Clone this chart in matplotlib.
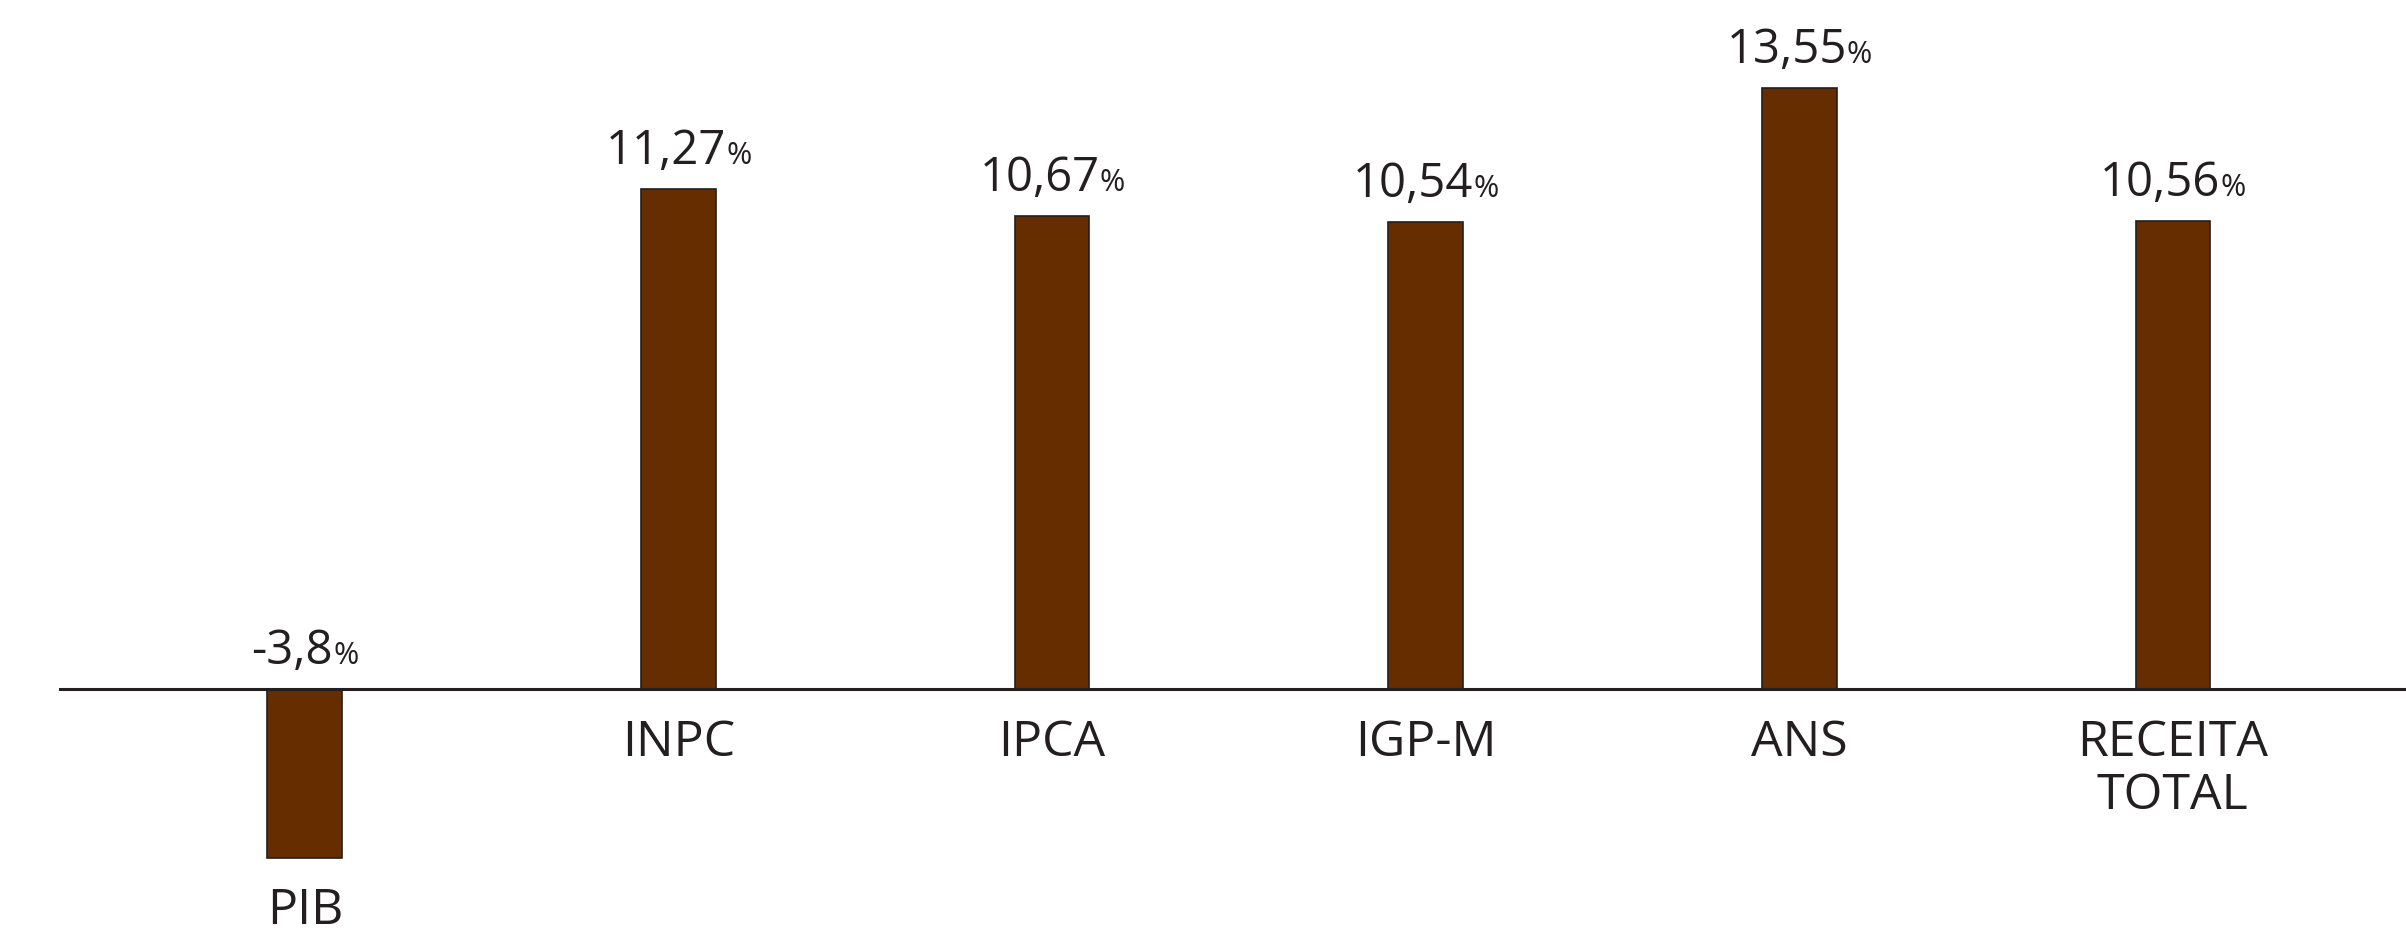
import matplotlib
matplotlib.use("Agg")
import matplotlib.pyplot as plt
from matplotlib.offsetbox import TextArea, HPacker, AnnotationBbox

# dados
categorias = ["PIB", "INPC", "IPCA", "IGP-M", "ANS", "RECEITA\nTOTAL"]
valores = [-3.8, 11.27, 10.67, 10.54, 13.55, 10.56]
rotulos = ["-3,8", "11,27", "10,67", "10,54", "13,55", "10,56"]

cor_barra = "#652d00"
cor_texto = "#231f20"
fonte = "Open Sans"

fig = plt.figure(figsize=(24.06, 9.30), dpi=100)
ax = fig.add_axes([0, 0, 1, 1])

x = list(range(len(categorias)))
ax.bar(x, valores, width=0.2, color=cor_barra, edgecolor=cor_texto, linewidth=1.2, zorder=2)

# linha do zero
ax.axhline(0, xmin=60 / 2406, xmax=1, color=cor_texto, linewidth=2.2, zorder=3)

for i, (v, txt, cat) in enumerate(zip(valores, rotulos, categorias)):
    # valor com "%" menor
    num = TextArea(txt, textprops=dict(fontsize=34, family=fonte, color=cor_texto))
    pct = TextArea("%", textprops=dict(fontsize=22, family=fonte, color=cor_texto))
    box = HPacker(children=[num, pct], align="baseline", pad=0, sep=0)
    ab = AnnotationBbox(box, (i, max(v, 0)), xybox=(0, 10), xycoords="data",
                        boxcoords="offset points", box_alignment=(0.5, 0),
                        frameon=False, pad=0)
    ax.add_artist(ab)

    # nome da categoria (abaixo da barra)
    ax.annotate(cat, (i, min(v, 0)), xytext=(0, -21), textcoords="offset points",
                ha="center", va="top", fontsize=36, family=fonte,
                color=cor_texto, linespacing=1.1)

ax.set_xlim(-0.816, 5.624)
ax.set_ylim(-5.43, 15.54)
ax.axis("off")

fig.savefig("out.png", dpi=100, facecolor="white")
